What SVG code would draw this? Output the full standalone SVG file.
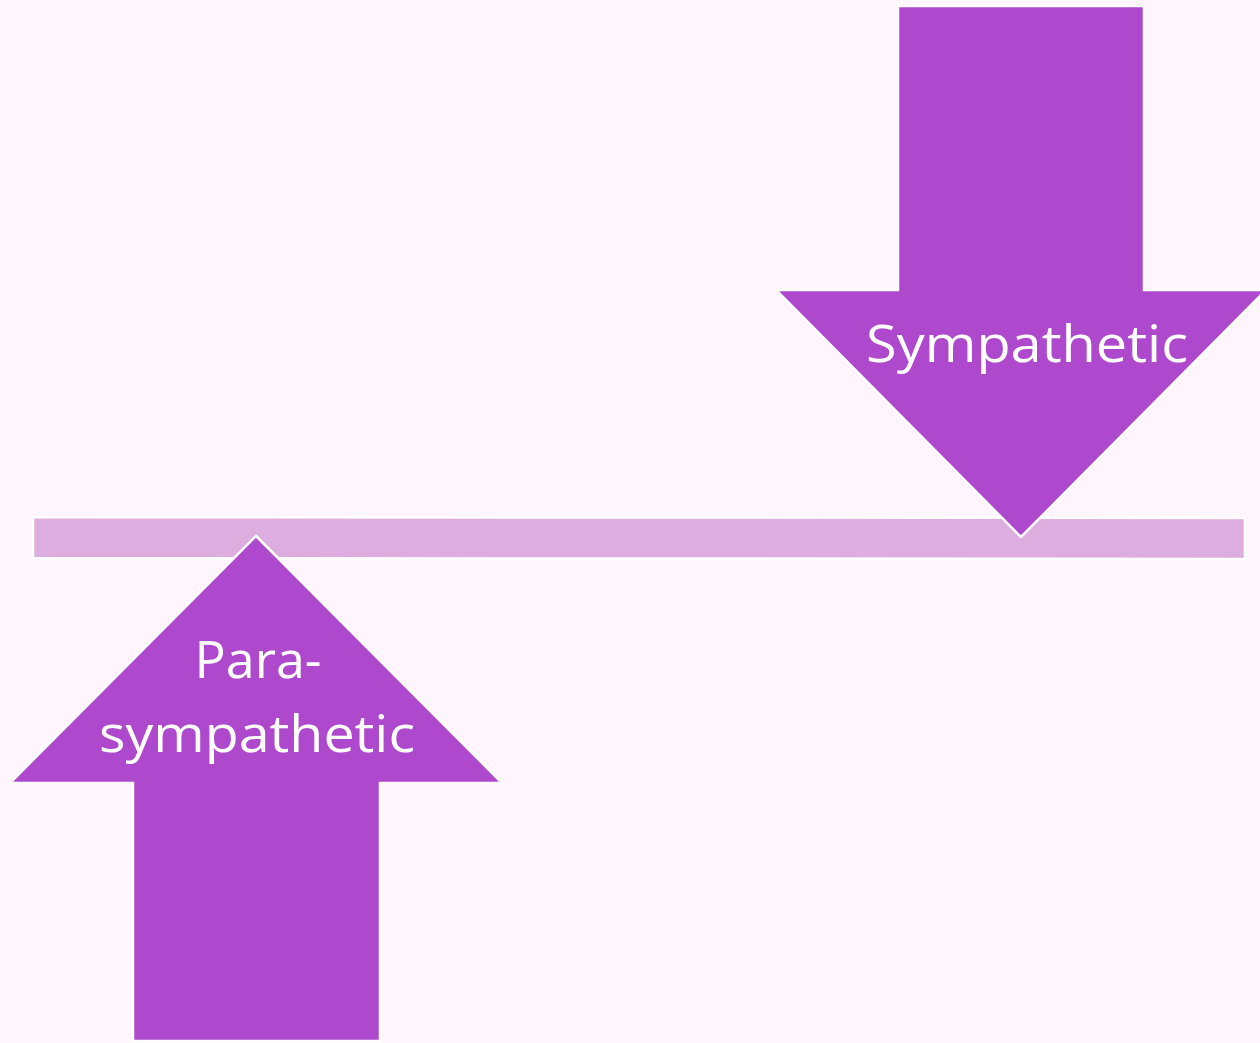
<svg xmlns="http://www.w3.org/2000/svg" width="1260" height="1043" viewBox="0 0 1260 1043">
<style>
.arrow{fill:#AE48CD;stroke:#FFFFFF;stroke-width:2.5;stroke-linejoin:miter}
.bar{fill:#DEADE0;stroke:#FFFFFF;stroke-width:2.5}
.lbl{font-family:"Open Sans","Liberation Sans",sans-serif;font-size:52px;fill:#FFFFFF;text-anchor:middle}
</style>
<rect width="1260" height="1043" fill="#FFF5FC"/>
<g id="balance-bar">
<polygon class="bar" points="33,517 1245,518 1245,559 33,558"/>
</g>
<g id="sympathetic">
<polygon class="arrow" points="898,6 1144,6 1144,290 1266,290 1021,537 776,290 898,290"/>
<text class="lbl" x="1027" y="362" textLength="322" lengthAdjust="spacingAndGlyphs">Sympathetic</text>
</g>
<g id="parasympathetic">
<polygon class="arrow" points="256,536 502,783 380,783 380,1041 133,1041 133,783 10,783"/>
<text class="lbl" x="258" y="678">Para-</text>
<text class="lbl" x="257" y="752" textLength="316" lengthAdjust="spacingAndGlyphs">sympathetic</text>
</g>
<g id="connectors"></g>
</svg>
